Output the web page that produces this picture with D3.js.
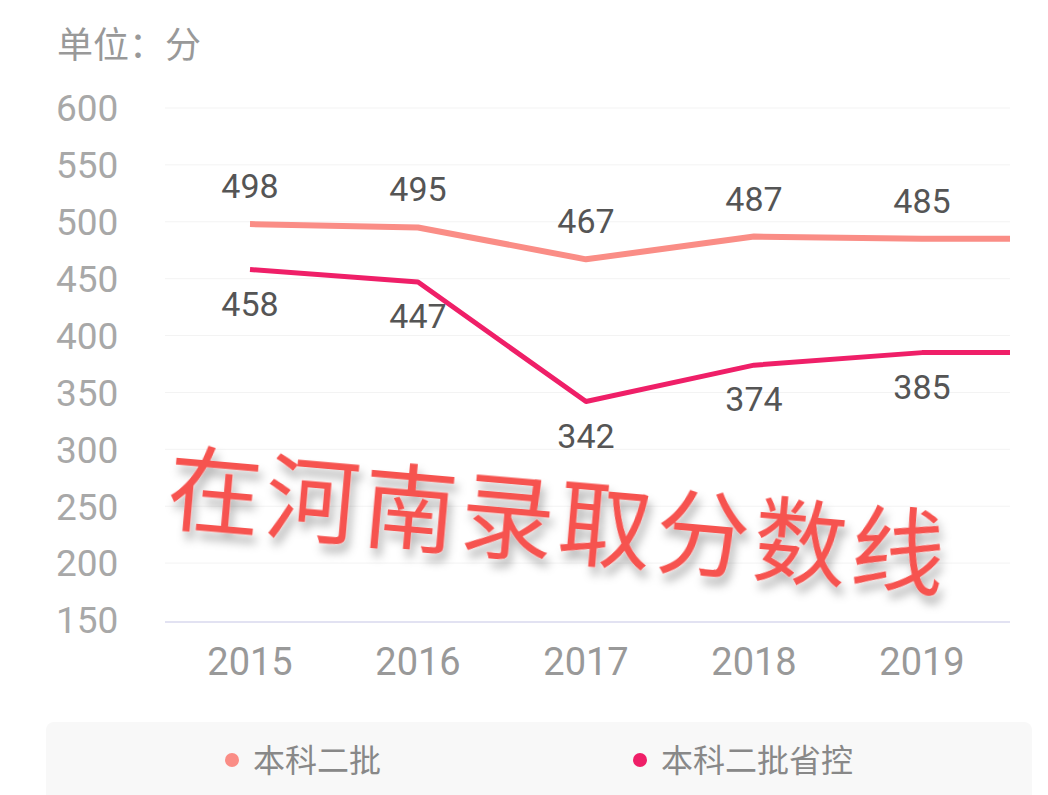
<!DOCTYPE html>
<html><head><meta charset="utf-8">
<script src="https://cdn.jsdelivr.net/npm/d3@7"></script>
<style>body{margin:0;background:#fff;}svg{display:block;font-family:Roboto,"Noto Sans CJK SC",sans-serif;}</style>
</head><body>
<svg id="c" width="1048" height="795"></svg>
<script>
const years = ["2015","2016","2017","2018","2019"];
const seriesNames = ["本科二批","本科二批省控"];
const batch2 = [498,495,467,487,485];
const batch2Prov = [458,447,342,374,385];
const yTicks = [150,200,250,300,350,400,450,500,550,600];
const colors = ["#fa8d86","#ef1f68"];

const svg = d3.select("#c");
const y = d3.scaleLinear().domain([150,600]).range([620,108]);
const x = d3.scalePoint().domain(years).range([250,922]);
const xEnd = 1010;

svg.append("text").attr("x",57).attr("y",58).attr("font-size",36).attr("fill","#999")
  .attr("font-family","Noto Sans CJK SC").text("单位：分");

svg.append("g").selectAll("line").data(yTicks.slice(1)).join("line")
  .attr("x1",165).attr("x2",1010).attr("y1",d=>y(d)).attr("y2",d=>y(d))
  .attr("stroke","#f3f3f3").attr("stroke-width",1);
svg.append("line").attr("x1",165).attr("x2",1010).attr("y1",y(150)+2).attr("y2",y(150)+2)
  .attr("stroke","#e2e2f2").attr("stroke-width",2);

svg.append("g").selectAll("text").data(yTicks).join("text")
  .attr("x",56).attr("y",d=>y(d)).attr("dy","0.36em").attr("font-size",37).attr("fill","#a8a8a8").text(d=>d);
svg.append("g").selectAll("text").data(years).join("text")
  .attr("x",d=>x(d)).attr("y",675).attr("text-anchor","middle").attr("font-size",38).attr("fill","#999").text(d=>d);

const line = d3.line().x(d=>d[0]).y(d=>y(d[1]));
[batch2,batch2Prov].forEach((s,i)=>{
  const pts = s.map((v,j)=>[x(years[j]),v]);
  pts.push([xEnd,s[s.length-1]]);
  svg.append("path").attr("d",line(pts)).attr("fill","none").attr("stroke",colors[i])
    .attr("stroke-width",i===0?6:5).attr("stroke-linejoin","round");
});
svg.append("g").selectAll("text").data(batch2).join("text")
  .attr("x",(d,j)=>x(years[j])).attr("y",d=>y(d)-26).attr("text-anchor","middle")
  .attr("font-size",34).attr("fill","#555").text(d=>d);
svg.append("g").selectAll("text").data(batch2Prov).join("text")
  .attr("x",(d,j)=>x(years[j])).attr("y",d=>y(d)+46).attr("text-anchor","middle")
  .attr("font-size",34).attr("fill","#555").text(d=>d);

const defs = svg.append("defs");
const f = defs.append("filter").attr("id","sh").attr("x","-10%").attr("y","-30%").attr("width","120%").attr("height","160%");
f.append("feDropShadow").attr("dx",4).attr("dy",8).attr("stdDeviation",5).attr("flood-color","#000").attr("flood-opacity",0.3);
svg.append("text").attr("transform","translate(165,522) rotate(5)")
  .attr("font-family","Noto Sans CJK SC").attr("font-size",94).attr("fill","#f6524f")
  .attr("textLength",780).attr("filter","url(#sh)").text("在河南录取分数线");

svg.append("rect").attr("x",46).attr("y",722).attr("width",986).attr("height",90).attr("rx",8).attr("fill","#f8f8f8");
const lx = [232,640];
seriesNames.forEach((n,i)=>{
  svg.append("circle").attr("cx",lx[i]).attr("cy",760).attr("r",7).attr("fill",colors[i]);
  svg.append("text").attr("x",lx[i]+21).attr("y",760).attr("dy","0.36em").attr("font-size",32)
    .attr("font-family","Noto Sans CJK SC").attr("fill","#888").text(n);
});
</script>
</body></html>
